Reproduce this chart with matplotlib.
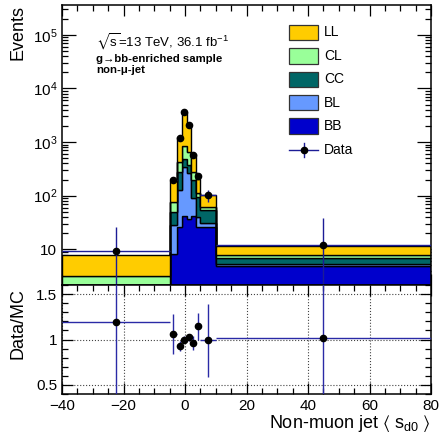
import numpy as np
import matplotlib
matplotlib.use("Agg")
import matplotlib.pyplot as plt
from matplotlib.ticker import FixedLocator, MultipleLocator, LogLocator, NullFormatter, FixedFormatter
from matplotlib.patches import Rectangle
from matplotlib.lines import Line2D

plt.rcParams["font.family"] = ["Liberation Sans", "DejaVu Sans"]
plt.rcParams["mathtext.fontset"] = "custom"
plt.rcParams["mathtext.rm"] = "Liberation Sans"
plt.rcParams["mathtext.it"] = "Liberation Sans:italic"
plt.rcParams["mathtext.bf"] = "Liberation Sans:bold"
plt.rcParams["mathtext.fallback"] = "stixsans"

# ---- binned data -------------------------------------------------------
bin_edges = [-40, -5, -2.5, -1, 0.5, 2, 3.5, 5, 10, 80]
bb = [0.6, 8.2, 26.4, 42, 36, 42, 26.4, 26.4, 4.9]
bl = [0.3, 19.6, 104, 301, 233, 47, 14, 4.6, 0.5]
cc = [0.7, 22.5, 146.5, 143, 97, 111, 55, 23.8, 1.4]
cl = [1.6, 27, 148, 360, 287, 71, 15, 6.7, 0.9]
ll = [4.6, 108, 842, 2751, 1381, 327, 93, 40.5, 4.0]
data = [9.3, 196, 1178, 3597, 2085, 574, 233, 101, 11.9]
data_err = [17, 12, 40, 70, 50, 30, 25, 25, 27]
ratio_err = [2.5, 0.22, 0.055, 0.04, 0.04, 0.08, 0.15, 0.4, 2.5]

flavours = ["BB", "BL", "CC", "CL", "LL"]
colours = {"LL": "#ffcc00", "CL": "#99ff99", "CC": "#006666",
           "BL": "#6699ff", "BB": "#0000cc"}
components = {"BB": bb, "BL": bl, "CC": cc, "CL": cl, "LL": ll}

W, H = 440, 445
fig = plt.figure(figsize=(W / 100, H / 100), dpi=100)


def fx(x):
    return x / W


def fy(y):
    return 1 - y / H


ax = fig.add_axes([fx(62), fy(285), fx(431) - fx(62), fy(5) - fy(285)])
rax = fig.add_axes([fx(62), fy(394), fx(431) - fx(62), fy(285) - fy(394)], sharex=ax)

edges = np.array(bin_edges, dtype=float)
centers = 0.5 * (edges[1:] + edges[:-1])
half = 0.5 * (edges[1:] - edges[:-1])
data_a = np.array(data, dtype=float)

# ---- stacked MC --------------------------------------------------------
base = np.full(len(data), 1e-2)
for name in flavours:
    vals = np.array(components[name], dtype=float)
    ax.stairs(base + vals, edges, baseline=base, fill=True,
              facecolor=colours[name], edgecolor="black", linewidth=1.0, zorder=2)
    base = base + vals
mc_total = base - 1e-2

ecol = "#1c1c96"
err_a = np.array(data_err, dtype=float)
lower = np.minimum(err_a, data_a - 1e-3)
ax.errorbar(centers, data_a, xerr=half, yerr=[lower, err_a], fmt="o",
            color="black", ecolor=ecol, elinewidth=1.0, capsize=0,
            markersize=4.5, zorder=5)

ax.set_yscale("log")
ax.set_ylim(2.16, 3.6e5)
ax.set_xlim(-40, 80)

ax.yaxis.set_major_locator(FixedLocator([10, 1e2, 1e3, 1e4, 1e5]))
ax.yaxis.set_major_formatter(FixedFormatter(["10", r"$10^{2}$", r"$10^{3}$",
                                             r"$10^{4}$", r"$10^{5}$"]))
ax.yaxis.set_minor_locator(LogLocator(base=10, subs=np.arange(2, 10), numticks=20))
ax.yaxis.set_minor_formatter(NullFormatter())

for a in (ax, rax):
    a.xaxis.set_major_locator(MultipleLocator(20))
    a.xaxis.set_minor_locator(MultipleLocator(5))
    a.tick_params(which="both", direction="in", top=True, right=True, labelsize=11)
    a.tick_params(which="major", length=8, width=0.9)
    a.tick_params(which="minor", length=4, width=0.9)
    for s in a.spines.values():
        s.set_linewidth(1.1)
ax.tick_params(axis="x", labelbottom=False)
ax.tick_params(axis="y", which="major", length=10)

# ---- ratio panel -------------------------------------------------------
ratio = data_a / mc_total
rax.errorbar(centers, ratio, xerr=half, yerr=np.array(ratio_err), fmt="o",
             color="black", ecolor="#2a2aa6", elinewidth=1.0, capsize=0,
             markersize=4.5, zorder=5)
rax.set_ylim(0.4, 1.6)
rax.yaxis.set_major_locator(FixedLocator([0.5, 1.0, 1.5]))
rax.yaxis.set_major_formatter(FixedFormatter(["0.5", "1", "1.5"]))
rax.yaxis.set_minor_locator(MultipleLocator(0.1))
rax.grid(True, which="major", linestyle=":", color="#444444", linewidth=0.8)
rax.set_xticks(np.arange(-40, 81, 20))
rax.set_xticklabels(["\u221240", "\u221220", "0", "20", "40", "60", "80"])

# ---- axis titles -------------------------------------------------------
fig.text(fx(18), fy(5), "Events", rotation=90, ha="center", va="top", fontsize=13)
fig.text(fx(18), fy(288), "Data/MC", rotation=90, ha="center", va="top", fontsize=13)
fig.text(fx(431), fy(428), r"Non-muon jet $\langle$ s$_{\mathrm{d0}}$ $\rangle$",
         ha="right", va="baseline", fontsize=13)

# ---- labels ------------------------------------------------------------
fig.text(fx(96), fy(46.7), r"$\sqrt{\mathrm{s}}$=13 TeV, 36.1 fb$^{-1}$",
         ha="left", va="baseline", fontsize=9.5)
fig.text(fx(96), fy(61.7), "g\u2192bb-enriched sample", ha="left", va="baseline",
         fontsize=8.2, fontweight="bold")
fig.text(fx(96), fy(73.3), "non-\u03bc-jet", ha="left", va="baseline",
         fontsize=8.2, fontweight="bold")

# ---- legend ------------------------------------------------------------
legend_rows = ["LL", "CL", "CC", "BL", "BB"]
row_y = [32.5, 55.9, 79.3, 102.7, 126.1]
for name, cy in zip(legend_rows, row_y):
    fig.add_artist(Rectangle((fx(289), fy(cy + 7.75)), fx(318) - fx(289),
                             fy(cy - 7.75) - fy(cy + 7.75), transform=fig.transFigure,
                             facecolor=colours[name], edgecolor="#333333", linewidth=0.9))
    fig.text(fx(324), fy(cy), name, ha="left", va="center", fontsize=10)
cy = 149.5
fig.add_artist(Line2D([fx(289), fx(318)], [fy(cy), fy(cy)], transform=fig.transFigure,
                      color=ecol, linewidth=1.0))
fig.add_artist(Line2D([fx(303.5), fx(303.5)], [fy(cy - 7), fy(cy + 7)],
                      transform=fig.transFigure, color=ecol, linewidth=1.0))
fig.add_artist(Line2D([fx(303.5)], [fy(cy)], transform=fig.transFigure,
                      marker="o", color="black", markersize=4.5, linestyle="none"))
fig.text(fx(324), fy(cy), "Data", ha="left", va="center", fontsize=10)

fig.savefig("out.png", dpi=100)
